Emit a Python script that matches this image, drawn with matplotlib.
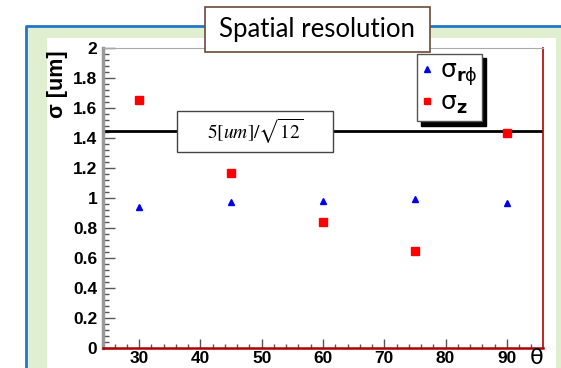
import numpy as np
import matplotlib
matplotlib.use('Agg')
import matplotlib.pyplot as plt
from matplotlib.patches import Rectangle
from matplotlib.lines import Line2D
from matplotlib.ticker import MultipleLocator

theta = [30, 45, 60, 75, 90]
sigma_rphi = [0.94, 0.973, 0.98, 0.993, 0.967]
sigma_z = [1.653, 1.167, 0.842, 0.647, 1.433]
pitch_limit = 5 / np.sqrt(12)

W, H = 561, 368
fig = plt.figure(figsize=(W / 100, H / 100), dpi=100)

def fx(px):
    return px / W

def fy(py):
    return 1 - py / H

# slide frame: blue outline, green band, white panel
fig.patches.append(Rectangle((fx(27), 0), 1 - fx(27), fy(27), transform=fig.transFigure,
                             facecolor='#dfefcf', edgecolor='none', zorder=-2))
fig.patches.append(Rectangle((fx(47), 0), fx(556) - fx(47), fy(38), transform=fig.transFigure,
                             facecolor='white', edgecolor='none', zorder=-1))
fig.lines.append(Line2D([fx(26), fx(26), 1], [0, fy(26), fy(26)], transform=fig.transFigure,
                        color='#1f78c8', lw=2, zorder=-1))

ax = fig.add_axes([fx(103), fy(348), fx(543) - fx(103), fy(48) - fy(348)])
ax.set_zorder(2)
ax.set_facecolor('white')
ax.set_xlim(24.1, 95.9)
ax.set_ylim(0, 2)

ax.axhline(pitch_limit, color='black', lw=2, zorder=2)
ax.plot(theta, sigma_rphi, linestyle='none', marker='^', color='#0000ee', markersize=5, zorder=3)
ax.plot(theta, sigma_z, linestyle='none', marker='s', color='#ff0000', markersize=5.5, zorder=3)

# label box on the line
ax.add_patch(Rectangle((36.2, pitch_limit - 0.137), 25.4, 0.273, facecolor='white',
                       edgecolor='#444444', lw=1, zorder=4))
ax.text(48.9, pitch_limit, r'$5[um]/\sqrt{12}$', ha='center', va='center', fontsize=14,
        math_fontfamily='stix', zorder=5)

ax.xaxis.set_major_locator(MultipleLocator(10))
ax.xaxis.set_minor_locator(MultipleLocator(2))
ax.yaxis.set_major_locator(MultipleLocator(0.2))
ax.yaxis.set_minor_locator(MultipleLocator(0.04))
ax.set_yticks(np.arange(0, 2.01, 0.2))
ax.set_yticklabels(['0', '0.2', '0.4', '0.6', '0.8', '1', '1.2', '1.4', '1.6', '1.8', '2'])
ax.set_xticks([30, 40, 50, 60, 70, 80, 90])

for lab in ax.get_xticklabels() + ax.get_yticklabels():
    lab.set_fontweight('bold')
    lab.set_fontfamily('Liberation Sans')
    lab.set_fontsize(12.5)

ax.tick_params(axis='y', which='major', direction='in', length=8.5, width=1, color='#555555', pad=4)
ax.tick_params(axis='y', which='minor', direction='in', length=4.3, width=1, color='#555555')
ax.tick_params(axis='x', which='major', direction='in', length=6.5, width=1, color='#555555', pad=2.5)
ax.tick_params(axis='x', which='minor', direction='in', length=3, width=1, color='#555555')

ax.spines['left'].set_color('#999999')
ax.spines['left'].set_linewidth(2.5)
ax.spines['bottom'].set_color('#b00000')
ax.spines['bottom'].set_linewidth(1.8)
ax.spines['right'].set_color('#b00000')
ax.spines['right'].set_linewidth(1.2)
ax.spines['top'].set_color('#aaaaaa')
ax.spines['top'].set_linewidth(0.8)

# legend
handles = [Line2D([], [], linestyle='none', marker='^', color='#0000ee', markersize=4),
           Line2D([], [], linestyle='none', marker='s', color='#ff0000', markersize=5)]
labels = [r'$\mathrm{\sigma}_{\mathbf{r}\mathrm{\phi}}$', r'$\mathrm{\sigma}_{\mathbf{z}}$']
leg = ax.legend(handles, labels, loc='upper left', bbox_to_anchor=(0.714, 0.98), fontsize=18,
                frameon=True, fancybox=False,
                shadow={'color': 'black', 'alpha': 1, 'ox': 3, 'oy': -3},
                handlelength=0.4, handletextpad=0.3, borderpad=0.2, labelspacing=0.12,
                borderaxespad=0)
leg.get_frame().set_edgecolor('#555555')
leg.get_frame().set_linewidth(1)

# title box
fig.patches.append(Rectangle((fx(205), fy(52)), fx(430) - fx(205), fy(7) - fy(52),
                             transform=fig.transFigure, facecolor='white',
                             edgecolor='#6b4a3a', lw=1.2, zorder=10))
fig.text(fx(317), fy(30), 'Spatial resolution', ha='center', va='center', fontsize=18.5,
         family='Lato', zorder=11)

fig.text(fx(58), fy(84), 'σ [um]', rotation=90, ha='center', va='center',
         fontsize=15.5, fontweight='bold', family='Liberation Sans')
fig.text(fx(537), fy(358), 'θ', ha='center', va='center', fontsize=16, family='DejaVu Sans')

fig.savefig('out.png', dpi=100)
